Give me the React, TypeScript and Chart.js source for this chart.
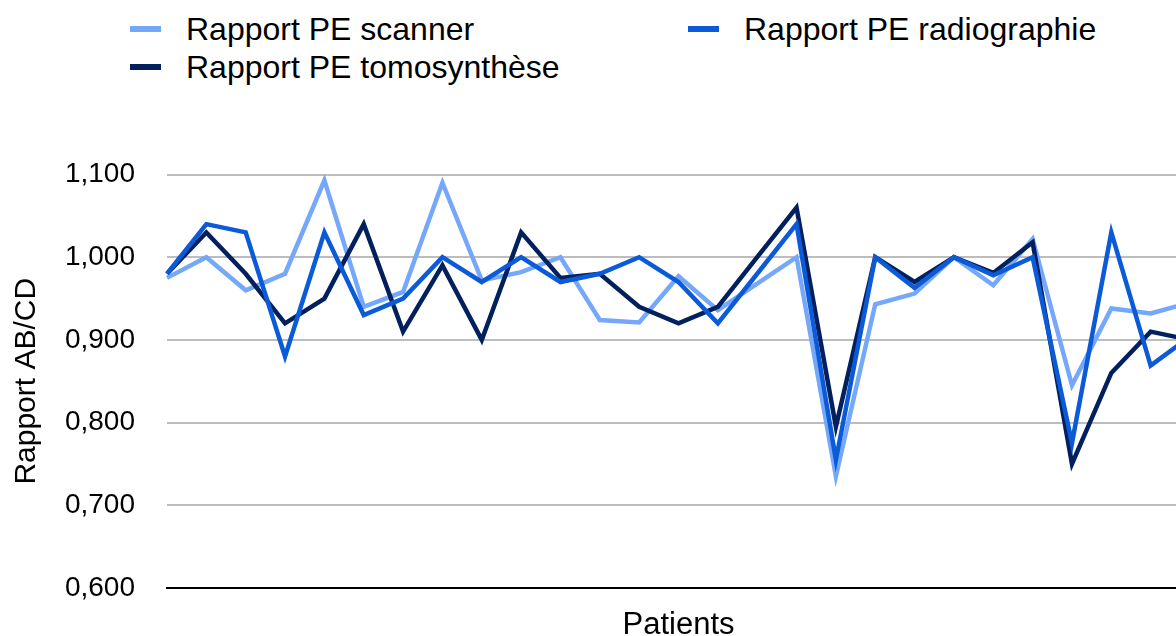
import React, { useEffect, useRef } from "react";
import { Chart, registerables } from "chart.js";

Chart.register(...registerables);

const categories: string[] = Array.from({ length: 27 }, (_, i) => String(i + 1));

const scannerValues: number[] = [0.975, 1.0, 0.96, 0.98, 1.093, 0.94, 0.958, 1.09, 0.972, 0.982, 1.0, 0.924, 0.921, 0.977, 0.936, 0.968, 1.0, 0.735, 0.943, 0.956, 1.0, 0.966, 1.022, 0.845, 0.938, 0.932, 0.945];
const radioValues: number[] = [0.98, 1.04, 1.03, 0.88, 1.03, 0.93, 0.95, 1.0, 0.97, 1.0, 0.97, 0.98, 1.0, 0.97, 0.92, 0.98, 1.04, 0.755, 1.0, 0.963, 1.0, 0.978, 1.0, 0.775, 1.03, 0.869, 0.904];
const tomoValues: number[] = [0.98, 1.03, 0.98, 0.92, 0.95, 1.04, 0.91, 0.99, 0.9, 1.03, 0.975, 0.98, 0.94, 0.92, 0.94, 1.0, 1.06, 0.795, 1.0, 0.97, 1.0, 0.981, 1.018, 0.75, 0.86, 0.91, 0.9];

const yTickLabels: string[] = ["0,600", "0,700", "0,800", "0,900", "1,000", "1,100"];

const seriesNames = ["Rapport PE scanner", "Rapport PE radiographie", "Rapport PE tomosynthèse"];
const COLORS = { scanner: "#75a8fb", radio: "#0b5ad8", tomo: "#03205e" };
const FONT = '"Liberation Sans", Arial, Helvetica, sans-serif';

export default function App() {
  const canvasRef = useRef<HTMLCanvasElement | null>(null);

  useEffect(() => {
    const canvas = canvasRef.current;
    if (!canvas) return;
    const chart = new Chart(canvas, {
      type: "line",
      data: {
        labels: categories,
        datasets: [
          { label: seriesNames[1], data: radioValues, borderColor: COLORS.radio, backgroundColor: COLORS.radio, borderWidth: 4.5, pointRadius: 0, tension: 0, order: 0 },
          { label: seriesNames[2], data: tomoValues, borderColor: COLORS.tomo, backgroundColor: COLORS.tomo, borderWidth: 4.5, pointRadius: 0, tension: 0, order: 1 },
          { label: seriesNames[0], data: scannerValues, borderColor: COLORS.scanner, backgroundColor: COLORS.scanner, borderWidth: 4.5, pointRadius: 0, tension: 0, order: 2 },
        ],
      },
      options: {
        responsive: false,
        animation: false,
        devicePixelRatio: 1,
        layout: { padding: { left: 0, right: 40, top: 174.5, bottom: 0 } },
        plugins: { legend: { display: false }, tooltip: { enabled: false } },
        scales: {
          x: {
            type: "category",
            offset: false,
            grid: { display: false, drawTicks: false },
            border: { display: true, color: "#000000", width: 2 },
            ticks: { display: false },
            title: { display: true, text: "Patients", color: "#000000", font: { family: FONT, size: 31 }, padding: { top: 0, bottom: 16 } },
            afterFit: (scale: any) => { scale.height = 72; },
          },
          y: {
            min: 0.6,
            max: 1.1,
            grid: { color: "#bdbdbd", lineWidth: 2, drawTicks: false },
            border: { display: false },
            ticks: {
              stepSize: 0.1,
              padding: 32,
              color: "#000000",
              font: { family: FONT, size: 28 },
              callback: (_v: any, i: number) => yTickLabels[i],
            },
            title: { display: true, text: "Rapport AB/CD", color: "#000000", font: { family: FONT, size: 30 }, padding: { top: 9, bottom: 0 } },
            afterFit: (scale: any) => { scale.width = 167; },
          },
        },
      },
    } as any);
    return () => chart.destroy();
  }, []);

  const legendItem = (name: string, color: string, left: number, top: number) => (
    <div key={name} style={{ position: "absolute", left, top, height: 38, display: "flex", alignItems: "center", whiteSpace: "nowrap" }}>
      <div style={{ width: 31, height: 6, background: color, marginRight: 25 }} />
      <span style={{ fontFamily: FONT, fontSize: 32, color: "#000", lineHeight: "38px" }}>{name}</span>
    </div>
  );

  return (
    <div style={{ position: "fixed", left: 0, top: 0, width: 1176, height: 636, overflow: "hidden", background: "#ffffff" }}>
      {legendItem(seriesNames[0], COLORS.scanner, 130, 10)}
      {legendItem(seriesNames[1], COLORS.radio, 688, 10)}
      {legendItem(seriesNames[2], COLORS.tomo, 130, 48)}
      <canvas ref={canvasRef} width={1230} height={660} style={{ position: "absolute", left: 0, top: 0, width: 1230, height: 660 }} />
    </div>
  );
}
